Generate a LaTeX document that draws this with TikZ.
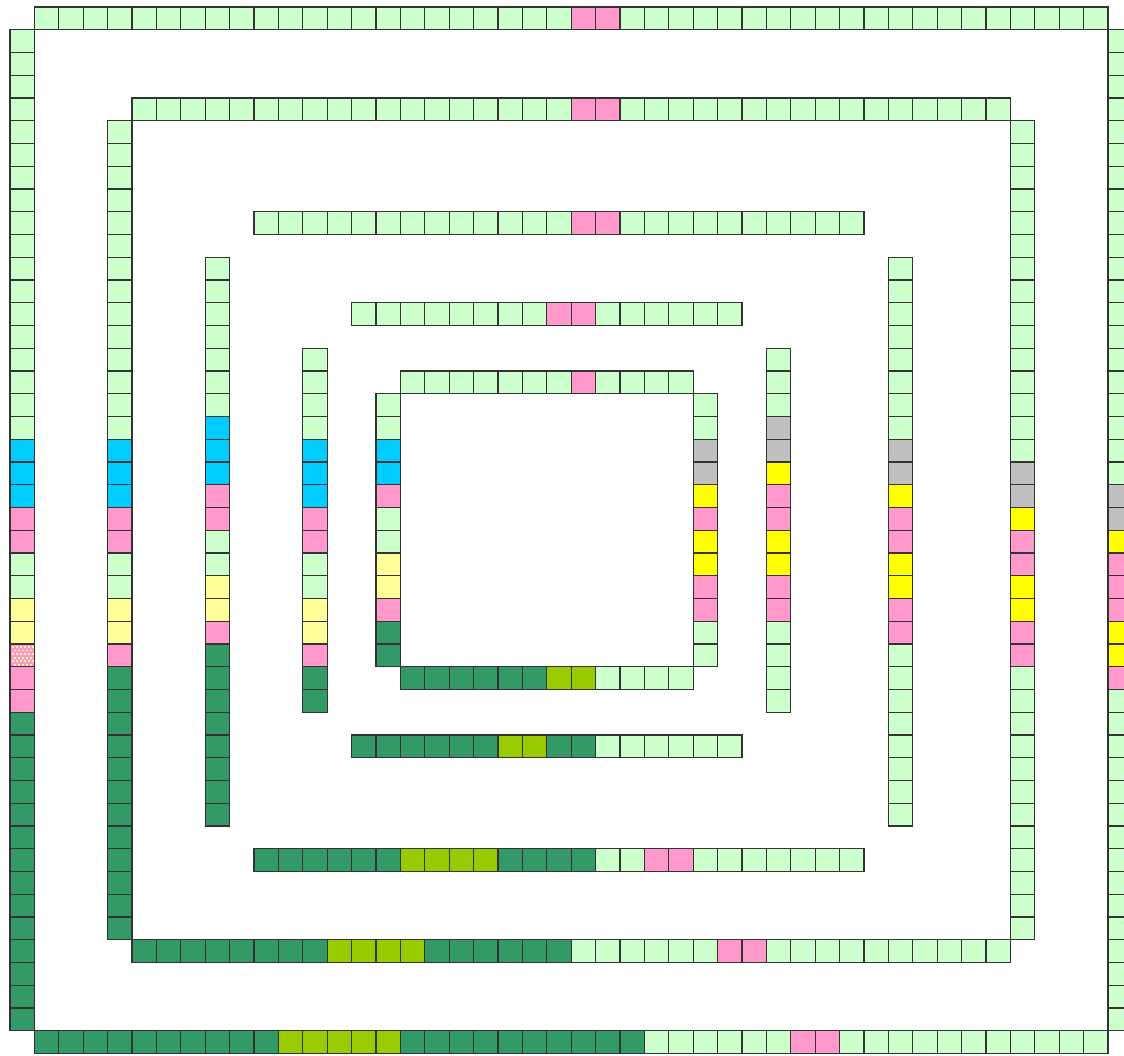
\documentclass[tikz,border=0pt]{standalone}
\usepackage{tikz}
\definecolor{lg}{HTML}{CCFFCC}
\definecolor{pk}{HTML}{FF99CC}
\definecolor{cy}{HTML}{00CCFF}
\definecolor{ly}{HTML}{FFFF99}
\definecolor{ye}{HTML}{FFFF00}
\definecolor{gr}{HTML}{C0C0C0}
\definecolor{dg}{HTML}{339966}
\definecolor{yg}{HTML}{99CC00}
\tikzset{cellbox/.style={draw=black!80, line width=0.6pt}}
\newcommand\hrun[4]{\foreach \i in {#2,...,#3} {\path[cellbox, fill=#4] ({10+\i*24.4},{7+#1*22.75}) rectangle ++(24.4,22.75);}}
\newcommand\vrun[4]{\foreach \j in {#2,...,#3} {\path[cellbox, fill=#4] ({10+#1*24.4},{7+\j*22.75}) rectangle ++(24.4,22.75);}}
\begin{document}
\begin{tikzpicture}[x=0.5pt,y=-0.5pt]
\clip (0,0) rectangle (1124,1055);
\fill[white] (0,0) rectangle (1124,1055);
% ring 1
\hrun{0}{1}{22}{lg} \hrun{0}{23}{24}{pk} \hrun{0}{25}{44}{lg}
\vrun{0}{1}{18}{lg} \vrun{0}{19}{21}{cy} \vrun{0}{22}{23}{pk} \vrun{0}{24}{25}{lg} \vrun{0}{26}{27}{ly}
\vrun{0}{29}{30}{pk} \vrun{0}{31}{44}{dg}
\fill[pk] (10,{7+28*22.75}) rectangle ++(24.4,22.75);
\foreach \r in {0,...,5} {\foreach \c in {0,...,5} {
  \fill[ly] ({10+2+\c*4+mod(\r,2)*2},{7+28*22.75+2+\r*3.6}) rectangle ++(1.8,1.8);}}
\path[cellbox] (10,{7+28*22.75}) rectangle ++(24.4,22.75);
\hrun{45}{1}{10}{dg} \hrun{45}{11}{15}{yg} \hrun{45}{16}{25}{dg} \hrun{45}{26}{31}{lg} \hrun{45}{32}{33}{pk} \hrun{45}{34}{44}{lg}
\vrun{45}{1}{20}{lg} \vrun{45}{21}{22}{gr} \vrun{45}{23}{23}{ye} \vrun{45}{24}{26}{pk} \vrun{45}{27}{28}{ye} \vrun{45}{29}{29}{pk} \vrun{45}{30}{44}{lg}
% ring 2
\hrun{4}{5}{22}{lg} \hrun{4}{23}{24}{pk} \hrun{4}{25}{40}{lg}
\vrun{4}{5}{18}{lg} \vrun{4}{19}{21}{cy} \vrun{4}{22}{23}{pk} \vrun{4}{24}{25}{lg} \vrun{4}{26}{27}{ly} \vrun{4}{28}{28}{pk} \vrun{4}{29}{40}{dg}
\hrun{41}{5}{12}{dg} \hrun{41}{13}{16}{yg} \hrun{41}{17}{22}{dg} \hrun{41}{23}{28}{lg} \hrun{41}{29}{30}{pk} \hrun{41}{31}{40}{lg}
\vrun{41}{5}{19}{lg} \vrun{41}{20}{21}{gr} \vrun{41}{22}{22}{ye} \vrun{41}{23}{24}{pk} \vrun{41}{25}{26}{ye} \vrun{41}{27}{28}{pk} \vrun{41}{29}{40}{lg}
% ring 3
\hrun{9}{10}{22}{lg} \hrun{9}{23}{24}{pk} \hrun{9}{25}{34}{lg}
\vrun{8}{11}{17}{lg} \vrun{8}{18}{20}{cy} \vrun{8}{21}{22}{pk} \vrun{8}{23}{24}{lg} \vrun{8}{25}{26}{ly} \vrun{8}{27}{27}{pk} \vrun{8}{28}{35}{dg}
\hrun{37}{10}{15}{dg} \hrun{37}{16}{19}{yg} \hrun{37}{20}{23}{dg} \hrun{37}{24}{25}{lg} \hrun{37}{26}{27}{pk} \hrun{37}{28}{34}{lg}
\vrun{36}{11}{18}{lg} \vrun{36}{19}{20}{gr} \vrun{36}{21}{21}{ye} \vrun{36}{22}{23}{pk} \vrun{36}{24}{25}{ye} \vrun{36}{26}{27}{pk} \vrun{36}{28}{35}{lg}
% ring 4
\hrun{13}{14}{21}{lg} \hrun{13}{22}{23}{pk} \hrun{13}{24}{29}{lg}
\vrun{12}{15}{18}{lg} \vrun{12}{19}{21}{cy} \vrun{12}{22}{23}{pk} \vrun{12}{24}{25}{lg} \vrun{12}{26}{27}{ly} \vrun{12}{28}{28}{pk} \vrun{12}{29}{30}{dg}
\hrun{32}{14}{19}{dg} \hrun{32}{20}{21}{yg} \hrun{32}{22}{23}{dg} \hrun{32}{24}{29}{lg}
\vrun{31}{15}{17}{lg} \vrun{31}{18}{19}{gr} \vrun{31}{20}{20}{ye} \vrun{31}{21}{22}{pk} \vrun{31}{23}{24}{ye} \vrun{31}{25}{26}{pk} \vrun{31}{27}{30}{lg}
% ring 5
\hrun{16}{16}{22}{lg} \hrun{16}{23}{23}{pk} \hrun{16}{24}{27}{lg}
\vrun{15}{17}{18}{lg} \vrun{15}{19}{20}{cy} \vrun{15}{21}{21}{pk} \vrun{15}{22}{23}{lg} \vrun{15}{24}{25}{ly} \vrun{15}{26}{26}{pk} \vrun{15}{27}{28}{dg}
\hrun{29}{16}{21}{dg} \hrun{29}{22}{23}{yg} \hrun{29}{24}{27}{lg}
\vrun{28}{17}{18}{lg} \vrun{28}{19}{20}{gr} \vrun{28}{21}{21}{ye} \vrun{28}{22}{22}{pk} \vrun{28}{23}{24}{ye} \vrun{28}{25}{26}{pk} \vrun{28}{27}{28}{lg}
\end{tikzpicture}
\end{document}
